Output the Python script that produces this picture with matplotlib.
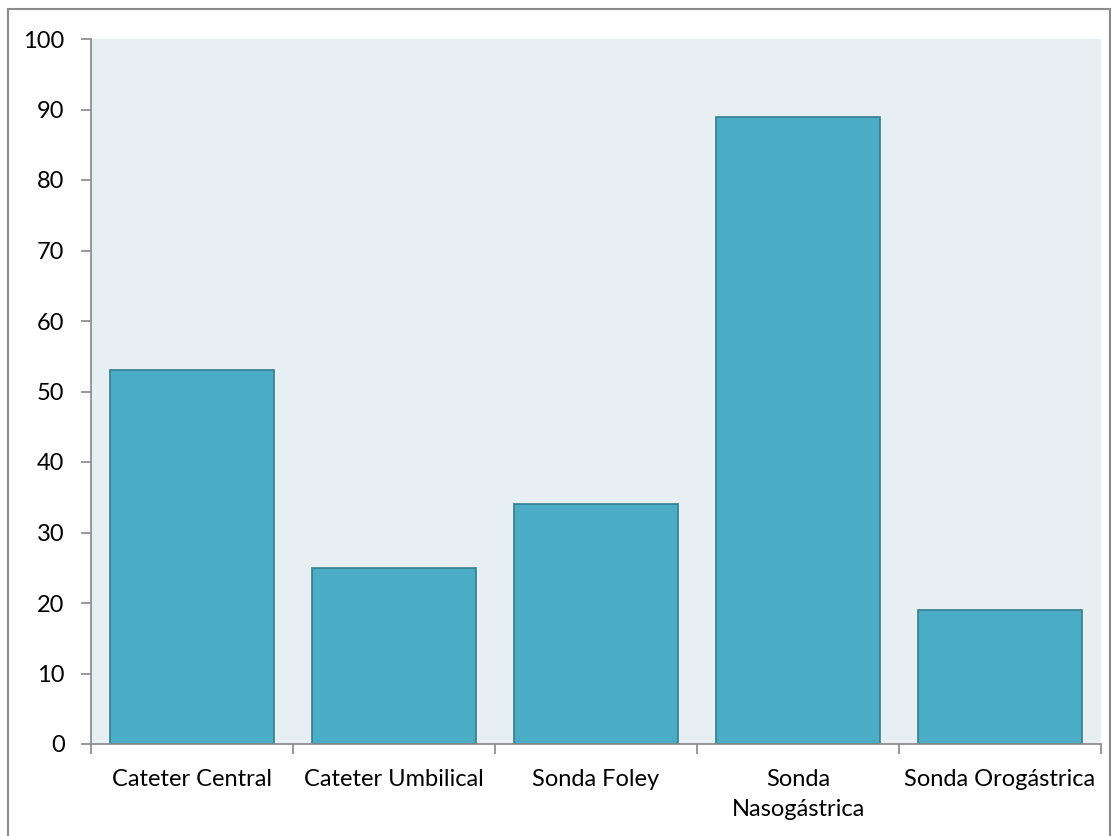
import matplotlib.pyplot as plt
from matplotlib.lines import Line2D

categories = ["Cateter Central", "Cateter Umbilical", "Sonda Foley",
              "Sonda\nNasogástrica", "Sonda Orogástrica"]
values = [53, 25, 34, 89, 19]
y_ticks = list(range(0, 101, 10))

plt.rcParams["font.family"] = ["Lato", "DejaVu Sans"]

fig = plt.figure(figsize=(11.18, 8.36), dpi=100)
ax = fig.add_axes([91 / 1118, 1 - 744 / 836, (1101 - 91) / 1118, (744 - 39) / 836])
ax.set_facecolor("#E8EFF3")

x = range(len(categories))
ax.bar(x, values, width=0.81, color="#4BACC6", edgecolor="#357D91", linewidth=1.2, zorder=2)

ax.set_xlim(-0.5, len(categories) - 0.5)
ax.set_ylim(0, 100)
ax.set_yticks(y_ticks)
ax.set_yticklabels([str(v) for v in y_ticks], fontsize=17)
ax.set_xticks([i - 0.5 for i in range(len(categories) + 1)])
ax.set_xticklabels([])
ax.set_xticks(list(x), minor=True)
ax.set_xticklabels(categories, minor=True, fontsize=17, linespacing=1.55)
ax.tick_params(axis="x", which="minor", length=0, pad=18)
ax.tick_params(axis="x", which="major", length=7, color="#878787", width=1.2)
ax.tick_params(axis="y", length=7, color="#878787", width=1.2, pad=12)

for side in ["top", "right"]:
    ax.spines[side].set_visible(False)
for side in ["left", "bottom"]:
    ax.spines[side].set_color("#878787")
    ax.spines[side].set_linewidth(1.2)

# outer chart border
fx0, fy1 = 8 / 1118, 1 - 9 / 836
fx1 = 1110 / 1118
for xs, ys in [([fx0, fx0], [0, fy1]), ([fx0, fx1], [fy1, fy1]), ([fx1, fx1], [fy1, 0])]:
    fig.add_artist(Line2D(xs, ys, color="#8C8C8C", linewidth=1.5, transform=fig.transFigure))

fig.savefig("out.png", dpi=100)
